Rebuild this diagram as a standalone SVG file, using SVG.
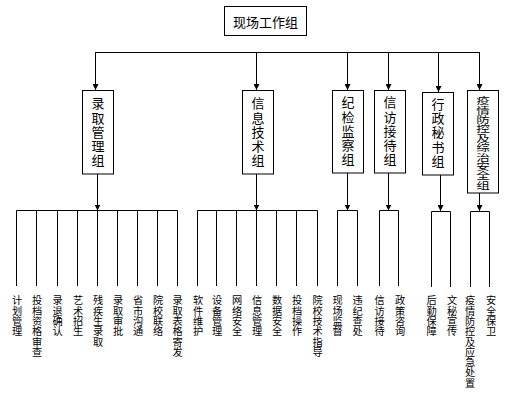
<svg xmlns="http://www.w3.org/2000/svg" width="513" height="401" viewBox="0 0 513 401">
<style>
.box{fill:#fff;stroke:#000;stroke-width:1}
.t{font-family:"Noto Sans CJK SC","Noto Sans",sans-serif;font-size:13px;text-anchor:middle;dominant-baseline:central;fill:#000}
.v{font-family:"Noto Sans CJK SC","Noto Sans",sans-serif;writing-mode:vertical-rl;text-anchor:start;dominant-baseline:central;fill:#000}
.m{font-size:13px;letter-spacing:1.2px}
.s{font-size:10.2px;letter-spacing:0.1px}
.q{font-size:9.4px}
.c{fill:none;stroke:#000;stroke-width:1}
</style>
<defs>
<marker id="ah" markerUnits="userSpaceOnUse" markerWidth="7" markerHeight="6" refX="6" refY="3" orient="auto">
<path d="M0,0 L6,3 L0,6 z" fill="#000"/>
</marker>
</defs>
<rect width="513" height="401" fill="#fff"/>
<g id="connectors">
<path class="c" d="M95,52.5 H480"/>
<path class="c" d="M95.5,52.5 V90" marker-end="url(#ah)"/>
<path class="c" d="M256.5,52.5 V90" marker-end="url(#ah)"/>
<path class="c" d="M347.5,52.5 V90" marker-end="url(#ah)"/>
<path class="c" d="M388.5,52.5 V90" marker-end="url(#ah)"/>
<path class="c" d="M438.5,52.5 V92" marker-end="url(#ah)"/>
<path class="c" d="M479.5,52.5 V90" marker-end="url(#ah)"/>
<path class="c" d="M97.5,174 V210.5" marker-end="url(#ah)"/>
<path class="c" d="M16.5,286 V210.5 H177.5 V286 M36.5,210.5 V286 M57.5,210.5 V286 M77.5,210.5 V286 M97.5,210.5 V286 M117.5,210.5 V286 M137.5,210.5 V286 M157.5,210.5 V286"/>
<path class="c" d="M256.5,174 V210.5" marker-end="url(#ah)"/>
<path class="c" d="M197.5,286 V210.5 H317.5 V286 M216.5,210.5 V286 M236.5,210.5 V286 M256.5,210.5 V286 M276.5,210.5 V286 M296.5,210.5 V286"/>
<path class="c" d="M347.5,173 V210.5" marker-end="url(#ah)"/>
<path class="c" d="M337.5,286 V210.5 H357.5 V286"/>
<path class="c" d="M388.5,173 V210.5" marker-end="url(#ah)"/>
<path class="c" d="M379.5,286 V210.5 H398.5 V286"/>
<path class="c" d="M440.5,175 V211" marker-end="url(#ah)"/>
<path class="c" d="M431.5,287 V211.5 H450.5 V287"/>
<path class="c" d="M479.5,193 V211" marker-end="url(#ah)"/>
<path class="c" d="M470.5,287 V211.5 H489.5 V287"/>
</g>
<g id="n-top">
<rect class="box" x="224.5" y="6.5" width="82" height="29"/>
<text class="t" x="265.5" y="21">现场工作组</text>
</g>
<g id="n-luqu">
<rect class="box" x="82.5" y="90.5" width="31" height="83.5"/>
<text class="v m" x="98" y="97">录取管理组</text>
</g>
<g id="n-xinxi">
<rect class="box" x="242.5" y="90.5" width="31" height="83.5"/>
<text class="v m" x="258" y="97">信息技术组</text>
</g>
<g id="n-jijian">
<rect class="box" x="332.5" y="90.5" width="31" height="82.5"/>
<text class="v m" x="348" y="96">纪检监察组</text>
</g>
<g id="n-xinfang">
<rect class="box" x="374.5" y="90.5" width="31" height="82.5"/>
<text class="v m" x="390" y="96">信访接待组</text>
</g>
<g id="n-xingzheng">
<rect class="box" x="422.5" y="92.5" width="31" height="82.5"/>
<text class="v m" x="438" y="97.5">行政秘书组</text>
</g>
<g id="n-yiqing">
<rect class="box" x="467.5" y="90.5" width="31" height="102.5"/>
<text class="v q" transform="translate(483,0) scale(1.45,1)" x="0" y="96">疫情防控及综治安全组</text>
</g>
<g id="labels">
<text class="v s" x="17" y="295.4">计划管理</text>
<text class="v s" x="37" y="295.4">投档资格审查</text>
<text class="v s" x="57.5" y="295.4">录退确认</text>
<text class="v s" x="78" y="295.4">艺术招生</text>
<text class="v s" x="98" y="295.4">残疾生录取</text>
<text class="v s" x="118" y="295.4">录取审批</text>
<text class="v s" x="138" y="295.4">省市沟通</text>
<text class="v s" x="158" y="295.4">院校联络</text>
<text class="v s" x="177.5" y="295.4">录取表格寄发</text>
<text class="v s" x="198" y="295.4">软件维护</text>
<text class="v s" x="217" y="295.4">设备管理</text>
<text class="v s" x="237" y="295.4">网络安全</text>
<text class="v s" x="257" y="295.4">信息管理</text>
<text class="v s" x="277" y="295.4">数据安全</text>
<text class="v s" x="297" y="295.4">投档操作</text>
<text class="v s" x="317.5" y="295.4">院校技术指导</text>
<text class="v s" x="337.5" y="295.4">现场监督</text>
<text class="v s" x="357.5" y="295.4">违纪查处</text>
<text class="v s" x="379.5" y="295.4">信访接待</text>
<text class="v s" x="400" y="295.4">政策咨询</text>
<text class="v s" x="431.5" y="295.4">后勤保障</text>
<text class="v s" x="452" y="295.4">文秘宣传</text>
<text class="v s" x="470" y="295.4">疫情防控及应急处置</text>
<text class="v s" x="491" y="295.4">安全保卫</text>
</g>
</svg>
